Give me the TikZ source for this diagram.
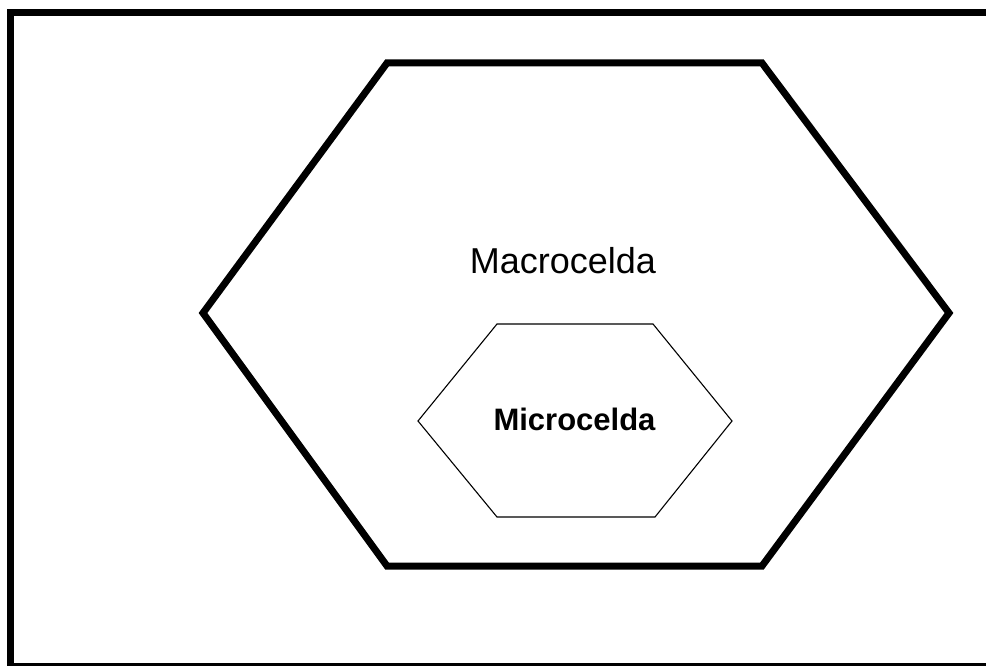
\documentclass[tikz,border=0pt]{standalone}
\usepackage{fontspec}
\setmainfont{Liberation Sans}
\begin{document}
\begin{tikzpicture}[x=1pt,y=-1pt,
  framepart/.style={draw=black,line cap=rect},
  bighex/.style={draw=black,line width=7pt,line join=miter},
  smallhex/.style={draw=black,line width=1.1pt,line join=miter},
  bigtext/.style={anchor=base,inner sep=0pt,font=\fontsize{36}{40}\selectfont},
  smalltext/.style={anchor=base,inner sep=0pt,font=\fontsize{31}{36}\selectfont\bfseries}]
\useasboundingbox (0,0) rectangle (986,666);
\clip (0,0) rectangle (986,666);
% outer frame (right side runs off the picture)
\draw[framepart,line width=7pt] (10.5,12.5) -- (1000,12.5);
\draw[framepart,line width=7pt] (10.5,12.5) -- (10.5,664);
\draw[framepart,line width=3pt] (10.5,664.5) -- (1000,664.5);
% macrocell
\draw[bighex] (387,63) -- (762,63) -- (949,313) -- (762,566) -- (387,566) -- (203,313) -- cycle;
% microcell
\draw[smallhex] (497,324) -- (653,324) -- (732,421) -- (655,517) -- (497,517) -- (418,421) -- cycle;
\node[bigtext] (macro) at (563,273) {Macrocelda};
\node[smalltext] (micro) at (574.5,430) {Microcelda};
\end{tikzpicture}
\end{document}
